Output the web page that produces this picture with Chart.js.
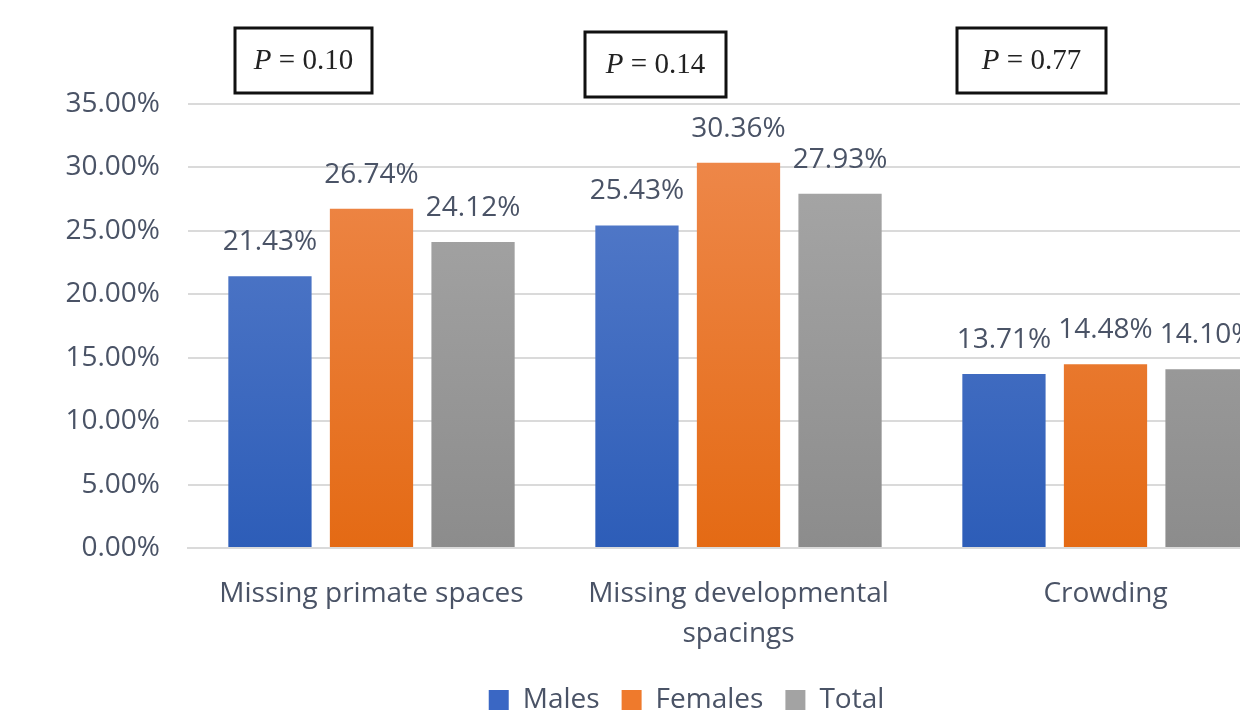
<!DOCTYPE html>
<html>
<head>
<meta charset="utf-8">
<script src="https://cdn.jsdelivr.net/npm/chart.js@4"></script>
<style>
  body { margin: 0; overflow: hidden; background: #fff; }
  #wrap { width: 1372px; height: 715px; }
</style>
</head>
<body>
<div id="wrap"><canvas id="myChart" width="1372" height="715"></canvas></div>
<script>
// data
const categories = [['Missing primate spaces'], ['Missing developmental', 'spacings'], ['Crowding']];
const males = [21.43, 25.43, 13.71];
const females = [26.74, 30.36, 14.48];
const total = [24.12, 27.93, 14.10];
const pValues = ['0.10', '0.14', '0.77'];
const yTicks = [0, 5, 10, 15, 20, 25, 30, 35];

const textColor = '#4a5366';
const fontFamily = '"Open Sans", "Noto Sans", sans-serif';

// vertical gradient for each bar, like the office chart
function grad(top, bottom) {
  return function (context) {
    const chart = context.chart;
    const area = chart.chartArea;
    if (!area) return bottom;
    let g = chart.ctx.createLinearGradient(0, area.top, 0, area.bottom);
    g.addColorStop(0, top);
    g.addColorStop(1, bottom);
    return g;
  };
}

// labels above bars
const valueLabels = {
  id: 'valueLabels',
  afterDatasetsDraw(chart) {
    const ctx = chart.ctx;
    ctx.save();
    ctx.font = '28px ' + fontFamily;
    ctx.fillStyle = textColor;
    ctx.textAlign = 'center';
    ctx.textBaseline = 'bottom';
    chart.data.datasets.forEach((ds, i) => {
      chart.getDatasetMeta(i).data.forEach((bar, j) => {
        ctx.fillText(ds.data[j].toFixed(2) + '%', bar.x, bar.y - 20);
      });
    });
    ctx.restore();
  }
};

// move the legend a bit, the original is not centred on the plot
const legendShift = {
  id: 'legendShift',
  afterLayout(chart) {
    const l = chart.legend;
    l.left += 42; l.right += 42;
    l.top += 9; l.bottom += 9;
  }
};

// the P value boxes over each group
const boxOffsets = [-68, -83, -74];
const boxWidths = [137, 141, 149];
const boxTops = [28, 32, 28];
const pBoxes = {
  id: 'pBoxes',
  afterDraw(chart) {
    const ctx = chart.ctx;
    const x = chart.scales.x;
    ctx.save();
    pValues.forEach((p, i) => {
      const cx = x.getPixelForValue(i) + boxOffsets[i];
      const w = boxWidths[i], h = 65;
      const bx = cx - w / 2, by = boxTops[i];
      ctx.lineWidth = 3;
      ctx.strokeStyle = '#111';
      ctx.strokeRect(bx, by, w, h);
      ctx.fillStyle = '#222';
      ctx.textBaseline = 'middle';
      ctx.font = 'italic 29px "Liberation Serif", serif';
      const pw = ctx.measureText('P').width;
      ctx.font = '29px "Liberation Serif", serif';
      const rest = ' = ' + p;
      const rw = ctx.measureText(rest).width;
      const sx = cx - (pw + rw) / 2;
      ctx.font = 'italic 29px "Liberation Serif", serif';
      ctx.textAlign = 'left';
      ctx.fillText('P', sx, by + h / 2 + 1);
      ctx.font = '29px "Liberation Serif", serif';
      ctx.fillText(rest, sx + pw, by + h / 2 + 1);
    });
    ctx.restore();
  }
};

let ctx = document.getElementById('myChart').getContext('2d');
let chart = new Chart(ctx, {
  type: 'bar',
  data: {
    labels: categories,
    datasets: [
      { label: 'Males', data: males, backgroundColor: grad('#5b80cc', '#2d5db8') },
      { label: 'Females', data: females, backgroundColor: grad('#ef8b50', '#e46a14') },
      { label: 'Total', data: total, backgroundColor: grad('#aaaaaa', '#8c8c8c') }
    ]
  },
  options: {
    responsive: false,
    animation: false,
    layout: { padding: { top: 104, right: 83, left: 0, bottom: 0 } },
    datasets: { bar: { categoryPercentage: 0.83, barPercentage: 0.82 } },
    plugins: {
      legend: {
        position: 'bottom',
        labels: {
          font: { size: 28, family: fontFamily },
          color: textColor,
          boxWidth: 20,
          boxHeight: 20,
          padding: 22,
          generateLabels(chart) {
            const solid = ['#3a67c4', '#ef7a2c', '#a3a3a3'];
            return chart.data.datasets.map((ds, i) => ({
              text: ds.label, fillStyle: solid[i], strokeStyle: solid[i], lineWidth: 0,
              datasetIndex: i, fontColor: textColor
            }));
          }
        }
      },
      tooltip: { enabled: false }
    },
    scales: {
      x: {
        grid: { display: false },
        border: { color: '#dadada', width: 2 },
        ticks: {
          color: textColor,
          font: { size: 28, family: fontFamily, lineHeight: 1.42 },
          padding: 18,
          maxRotation: 0
        },
        afterFit(scale) { scale.height = 107; }
      },
      y: {
        min: 0,
        max: 35,
        afterBuildTicks(scale) { scale.ticks = yTicks.map(v => ({ value: v })); },
        afterFit(scale) { scale.width = 188; },
        grid: { color: '#dadada', lineWidth: 2, drawTicks: false },
        border: { display: false },
        ticks: {
          color: textColor,
          font: { size: 28, family: fontFamily },
          padding: 28,
          callback: (v) => v.toFixed(2) + '%'
        }
      }
    }
  },
  plugins: [valueLabels, legendShift, pBoxes]
});
</script>
</body>
</html>
